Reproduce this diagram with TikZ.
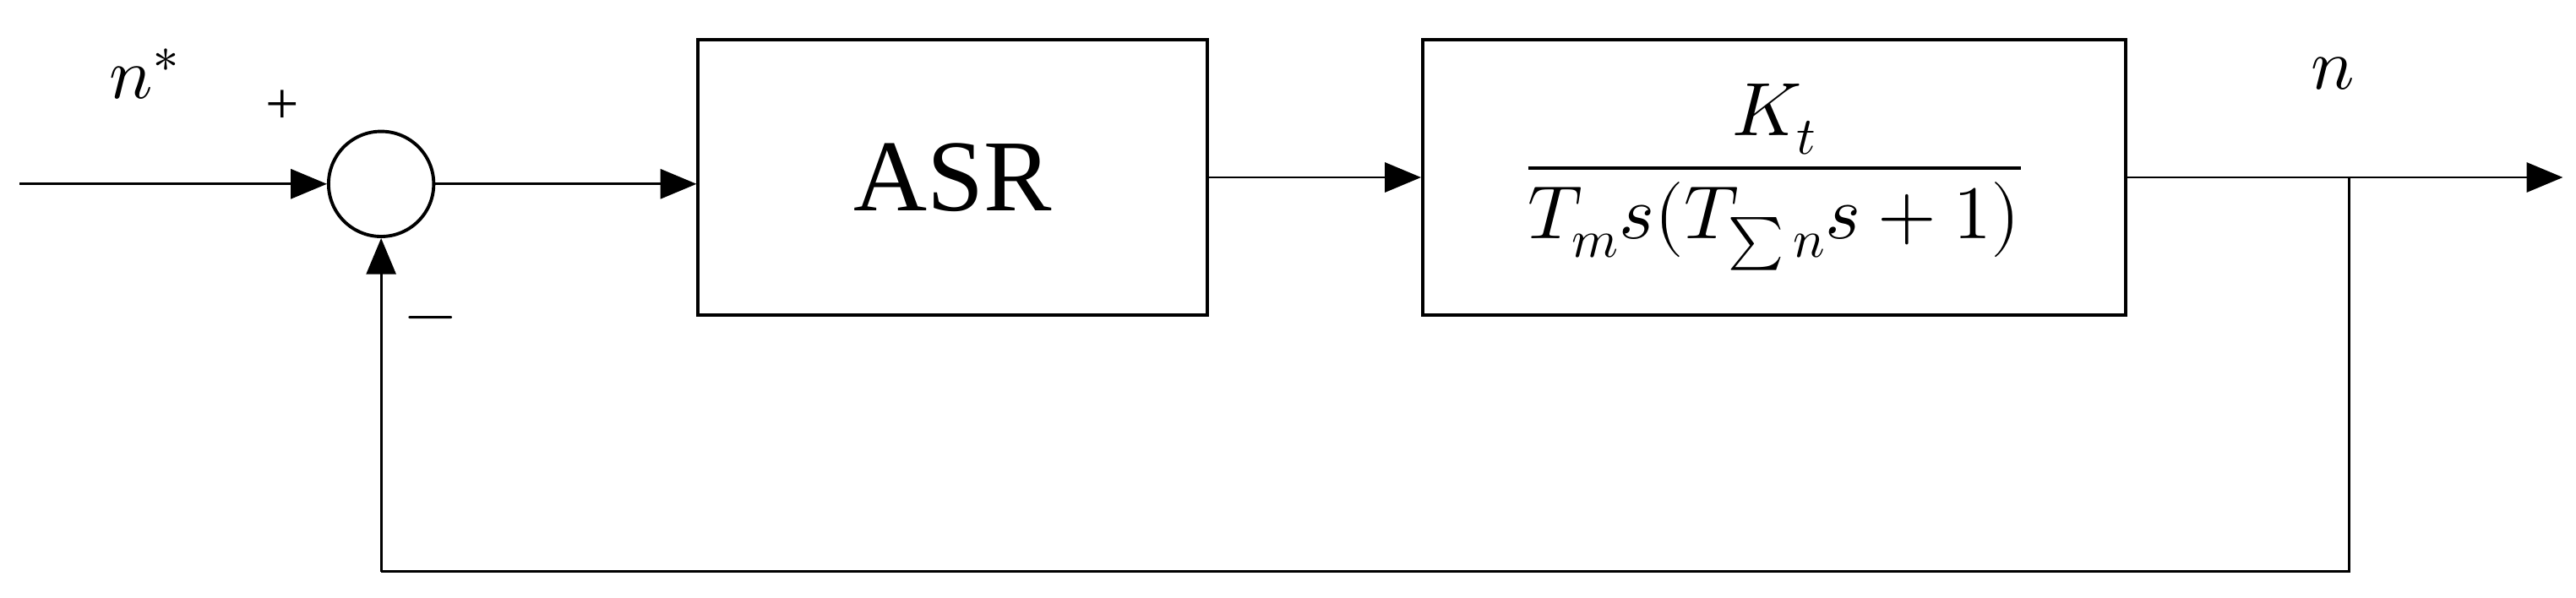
\documentclass[tikz,border=0pt]{standalone}
\usepackage{fontspec}
\setmainfont{Liberation Serif}
\usepackage{unicode-math}
\setmathfont{Latin Modern Math}
\usetikzlibrary{arrows.meta}
\begin{document}
\begin{tikzpicture}[x=1pt,y=-1pt,
  blk/.style={draw,line width=2pt,inner sep=0pt},
  ln/.style={line width=1.5pt},
  arr/.style={ln,-{Triangle[length=22pt,width=18pt]}},
  lab/.style={font=\fontsize{44}{50}\selectfont}]
\useasboundingbox (0,0) rectangle (1568,364);
\node[draw,circle,line width=2pt,minimum size=64pt,inner sep=0pt] (sum) at (232,112) {};
\node[blk,minimum width=310pt,minimum height=168pt] (asr) at (580,108) {\fontsize{62}{70}\selectfont ASR};
\node[blk,minimum width=428pt,minimum height=168pt] (pl) at (1080,108) {\fontsize{46}{56}\selectfont$\dfrac{K_t}{T_m s(T_{\sum n} s+1)}$};
\coordinate (in) at (12,112);
\coordinate (out) at (1560,108);
\coordinate (tap) at (1430,108);
\coordinate (b1) at (1430,348);
\coordinate (b2) at (232,348);
\draw[arr] (in) -- (sum.west);
\draw[arr] (sum.east) -- (sum.east -| asr.west);
\draw[arr] (asr.east) -- (pl.west);
\draw[arr] (pl.east) -- (out);
\draw[ln] (tap) -- (b1) -- (b2);
\draw[arr] (b2) -- (sum.south);
\node[lab] (ns) at (88,45) {$n^{*}$};
\node[lab] (pl1) at (172,65) {\fontsize{36}{40}\selectfont +};
\node[lab] (mi) at (262,198) {\fontsize{40}{40}\selectfont $-$};
\node[lab] (no) at (1420,45) {$n$};
\end{tikzpicture}
\end{document}
